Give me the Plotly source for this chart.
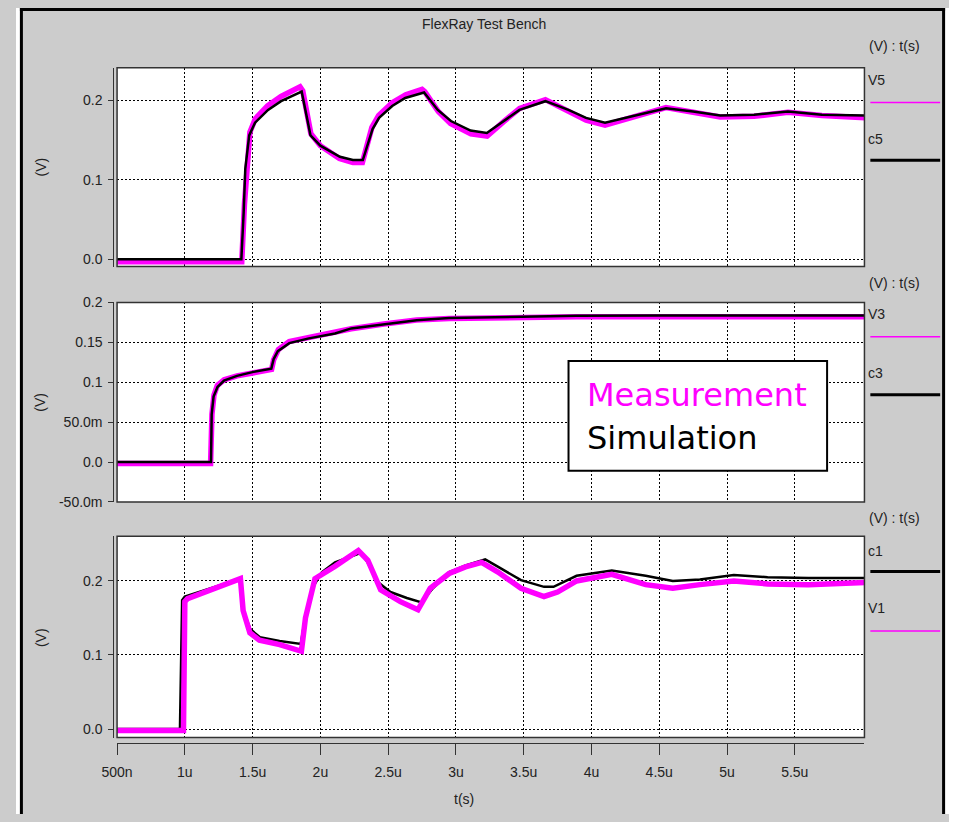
import plotly.graph_objects as go

# ---------------- data (time in microseconds, values in volts) ----------------
t_c5 = [0.5, 1.417, 1.434, 1.446, 1.475, 1.518, 1.614, 1.71, 1.862, 1.927, 2.0, 2.144, 2.24, 2.313,
        2.385, 2.433, 2.53, 2.626, 2.765, 2.866, 2.963, 3.108, 3.228, 3.348, 3.469, 3.66, 3.83, 3.96,
        4.1, 4.3, 4.55, 4.75, 4.95, 5.2, 5.45, 5.7, 6.02]
c5 = [0.0, 0.0, 0.059, 0.114, 0.156, 0.172, 0.188, 0.199, 0.211, 0.156, 0.143, 0.129, 0.125, 0.125,
      0.164, 0.178, 0.193, 0.203, 0.21, 0.188, 0.174, 0.162, 0.159, 0.174, 0.188, 0.199, 0.188, 0.178,
      0.172, 0.18, 0.19, 0.186, 0.181, 0.182, 0.186, 0.182, 0.181]

t_V5 = [0.5, 1.42, 1.44, 1.46, 1.48, 1.52, 1.61, 1.71, 1.85, 1.87, 1.93, 2.0, 2.14, 2.24, 2.31, 2.38,
        2.43, 2.53, 2.63, 2.75, 2.77, 2.87, 2.96, 3.11, 3.23, 3.35, 3.47, 3.66, 3.83, 3.96, 4.1, 4.3,
        4.55, 4.75, 4.95, 5.2, 5.45, 5.7, 6.02]
V5 = [-0.003, -0.003, 0.07, 0.12, 0.16, 0.177, 0.193, 0.205, 0.217, 0.212, 0.158, 0.143, 0.127, 0.122,
      0.122, 0.166, 0.181, 0.197, 0.207, 0.214, 0.211, 0.186, 0.171, 0.158, 0.155, 0.173, 0.19, 0.201,
      0.186, 0.175, 0.169, 0.178, 0.191, 0.185, 0.179, 0.18, 0.185, 0.181, 0.178]

t_c3 = [0.5, 1.193, 1.198, 1.212, 1.241, 1.289, 1.385, 1.506, 1.638, 1.655, 1.686, 1.771, 1.915, 2.108,
        2.228, 2.469, 2.71, 2.95, 3.31, 3.89, 4.5, 5.0, 5.5, 6.02]
c3 = [0.0, 0.0, 0.0595, 0.082, 0.094, 0.102, 0.108, 0.113, 0.117, 0.129, 0.139, 0.149, 0.155, 0.161,
      0.1675, 0.1727, 0.1777, 0.1805, 0.1815, 0.1834, 0.1835, 0.1835, 0.1835, 0.1835]

t_V3 = [0.5, 1.19, 1.2, 1.215, 1.24, 1.29, 1.385, 1.506, 1.64, 1.655, 1.69, 1.77, 1.915, 2.108, 2.228,
        2.469, 2.71, 2.95, 3.31, 3.89, 4.5, 5.0, 5.5, 6.02]
V3 = [-0.002, -0.002, 0.06, 0.084, 0.096, 0.103, 0.108, 0.112, 0.116, 0.128, 0.141, 0.151, 0.156, 0.163,
      0.167, 0.173, 0.178, 0.18, 0.181, 0.182, 0.182, 0.182, 0.182, 0.182]

t_c1 = [0.5, 0.964, 0.98, 1.0, 1.41, 1.434, 1.482, 1.554, 1.699, 1.855, 1.891, 1.939, 2.012, 2.108, 2.3,
        2.349, 2.421, 2.517, 2.638, 2.746, 2.83, 2.951, 3.072, 3.216, 3.312, 3.48, 3.65, 3.72, 3.89, 4.15,
        4.4, 4.6, 4.8, 5.05, 5.3, 5.6, 6.02]
c1 = [0.0, 0.0, 0.174, 0.179, 0.203, 0.159, 0.135, 0.124, 0.119, 0.115, 0.154, 0.19, 0.212, 0.225, 0.238,
      0.225, 0.199, 0.185, 0.177, 0.171, 0.19, 0.212, 0.221, 0.229, 0.219, 0.201, 0.192, 0.192, 0.207,
      0.214, 0.207, 0.2, 0.202, 0.208, 0.205, 0.204, 0.204]

t_V1 = [0.5, 0.99, 1.0, 1.02, 1.41, 1.43, 1.48, 1.55, 1.7, 1.86, 1.89, 1.96, 2.11, 2.28, 2.35, 2.445,
        2.59, 2.72, 2.81, 2.95, 3.07, 3.19, 3.31, 3.48, 3.65, 3.75, 3.89, 4.15, 4.4, 4.6, 4.8, 5.05, 5.3,
        5.6, 6.02]
V1 = [-0.002, -0.002, 0.172, 0.176, 0.203, 0.16, 0.13, 0.12, 0.114, 0.105, 0.15, 0.203, 0.22, 0.241,
      0.228, 0.188, 0.172, 0.161, 0.19, 0.21, 0.219, 0.225, 0.212, 0.19, 0.179, 0.185, 0.2, 0.209, 0.195,
      0.19, 0.195, 0.2, 0.196, 0.195, 0.198]

x_tickvals = [0.5, 1.0, 1.5, 2.0, 2.5, 3.0, 3.5, 4.0, 4.5, 5.0, 5.5]
x_ticktext = ["500n", "1u", "1.5u", "2u", "2.5u", "3u", "3.5u", "4u", "4.5u", "5u", "5.5u"]
y13_tickvals = [0.0, 0.1, 0.2]
y13_ticktext = ["0.0", "0.1", "0.2"]
y2_tickvals = [-0.05, 0.0, 0.05, 0.1, 0.15, 0.2]
y2_ticktext = ["-50.0m", "0.0", "50.0m", "0.1", "0.15", "0.2"]

# ---------------- layout helpers ----------------
# The page body keeps its default 8px margin: the figure starts at (8, 8) and
# reaches the right/bottom window edges; positions are given in window pixels.
OFF = 8
W, H = 957 - OFF, 830 - OFF
def px(x):
    return min(max((x - OFF) / W, 0.0), 1.0)
def py(y):
    return min(max(1 - (y - OFF) / H, 0.0), 1.0)

MAG = "#ff00ff"
TXT = "#222222"
FONT = "Liberation Sans"

x_dom = [px(110.8), px(871)]
y1_dom = [py(271.7), py(69)]
y2_dom = [py(511.7), py(308.3)]
y3_dom = [py(752), py(546.7)]

fig = go.Figure()

def add_pair(t_s, v_s, t_m, v_m, xa, ya, meas_on_top):
    sim = go.Scatter(x=t_s, y=v_s, mode="lines", line=dict(color="black", width=2.5),
                     xaxis=xa, yaxis=ya, showlegend=False, hoverinfo="skip")
    mea = go.Scatter(x=t_m, y=v_m, mode="lines", line=dict(color=MAG, width=5.5),
                     xaxis=xa, yaxis=ya, showlegend=False, hoverinfo="skip")
    if meas_on_top:
        fig.add_trace(sim); fig.add_trace(mea)
    else:
        fig.add_trace(mea); fig.add_trace(sim)

add_pair(t_c5, c5, t_V5, V5, "x", "y", False)
add_pair(t_c3, c3, t_V3, V3, "x2", "y2", False)
add_pair(t_c1, c1, t_V1, V1, "x3", "y3", True)

grid = dict(showgrid=True, gridcolor="black", gridwidth=1, griddash="2px,2px", zeroline=False)
tickfont = dict(family=FONT, size=14, color=TXT)

def xaxis(anchor, labels):
    d = dict(domain=x_dom, range=[0.5, 6.014], tickvals=x_tickvals, ticktext=x_ticktext, **grid)
    if labels:
        d.update(anchor="free", position=py(758), showline=True, linecolor="#333", linewidth=1,
                 ticks="outside", ticklen=11, tickcolor="#333", tickfont=tickfont, showticklabels=True,
                 ticklabelstandoff=5)
    else:
        d.update(anchor=anchor, showline=False, ticks="", showticklabels=False)
    return d

def yaxis(dom, rng, tv, tt):
    return dict(domain=dom, range=rng, tickvals=tv, ticktext=tt, anchor="free", position=px(107),
                showline=True, linecolor="#333", linewidth=1, ticks="outside", ticklen=5,
                tickcolor="#333", tickfont=tickfont, ticklabelstandoff=3, **grid)

fig.update_layout(
    width=W, height=H, autosize=False,
    margin=dict(l=0, r=0, t=0, b=0),
    paper_bgcolor="#cccccc", plot_bgcolor="white",
    xaxis=xaxis("y", False), xaxis2=xaxis("y2", False), xaxis3=xaxis("y3", True),
    yaxis=yaxis(y1_dom, [-0.0091, 0.241], y13_tickvals, y13_ticktext),
    yaxis2=yaxis(y2_dom, [-0.05, 0.2], y2_tickvals, y2_ticktext),
    yaxis3=yaxis(y3_dom, [-0.0115, 0.2604], y13_tickvals, y13_ticktext),
)

shapes = []
# plot-area borders
for dom in (y1_dom, y2_dom, y3_dom):
    shapes.append(dict(type="rect", xref="paper", yref="paper", x0=x_dom[0], x1=x_dom[1],
                       y0=dom[0], y1=dom[1], line=dict(color="#333", width=1.5), layer="above"))
# white surroundings outside the frame
shapes.append(dict(type="rect", xref="paper", yref="paper", x0=0, x1=px(12), y0=0, y1=1,
                   fillcolor="white", line=dict(width=0), layer="above"))
shapes.append(dict(type="rect", xref="paper", yref="paper", x0=px(953), x1=1, y0=0, y1=1,
                   fillcolor="white", line=dict(width=0), layer="above"))
# black frame
shapes.append(dict(type="line", xref="paper", yref="paper", x0=px(13.5), x1=px(13.5), y0=0, y1=1,
                   line=dict(color="black", width=3), layer="above"))
shapes.append(dict(type="line", xref="paper", yref="paper", x0=px(12), x1=px(953), y0=py(9.5), y1=py(9.5),
                   line=dict(color="black", width=3), layer="above"))
shapes.append(dict(type="line", xref="paper", yref="paper", x0=px(951.5), x1=px(951.5), y0=0, y1=1,
                   line=dict(color="black", width=3), layer="above"))
# big legend box
shapes.append(dict(type="rect", xref="paper", yref="paper", x0=px(570), x1=px(833), y0=py(480), y1=py(368),
                   fillcolor="white", line=dict(color="black", width=2), layer="above"))
# right-side legend lines
for ypix, col, wdt in [(104.3, MAG, 1.5), (163.3, "black", 3), (343.3, MAG, 1.5), (402.3, "black", 3),
                       (582.7, "black", 3), (643.3, MAG, 1.5)]:
    shapes.append(dict(type="line", xref="paper", yref="paper", x0=px(877), x1=px(948),
                       y0=py(ypix), y1=py(ypix), line=dict(color=col, width=wdt), layer="above"))

ann = []
def text(x, y, s, size=14, color=TXT, xanchor="left", family=FONT, angle=0):
    ann.append(dict(x=px(x), y=py(y), xref="paper", yref="paper", text=s, showarrow=False,
                    xanchor=xanchor, yanchor="middle", textangle=angle,
                    font=dict(family=family, size=size, color=color)))

text(484, 24, "FlexRay Test Bench", xanchor="center")
for yy in (170, 410, 650):
    text(33, yy, "(V)", xanchor="center", angle=-90)
text(464, 815, "t(s)", xanchor="center")
for yy in (47, 288.3, 528.3):
    text(874, yy, "(V) : t(s)")
text(873, 81.7, "V5"); text(873, 141.7, "c5")
text(873, 320, "V3"); text(873, 380, "c3")
text(873, 561.7, "c1"); text(873, 620, "V1")
text(587, 403, "Measurement", size=32, color=MAG, family="DejaVu Sans")
text(587, 447, "Simulation", size=32, color="black", family="DejaVu Sans")

fig.update_layout(shapes=shapes, annotations=ann)
fig.write_html("out.html")
